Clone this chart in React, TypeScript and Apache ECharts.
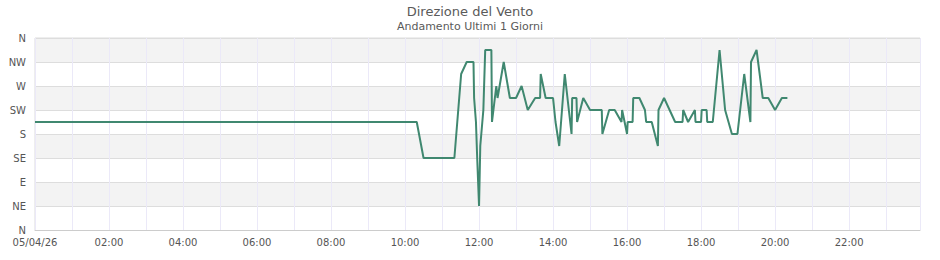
import React, { useEffect, useRef } from "react";
import * as echarts from "echarts";

const titleText = "Direzione del Vento";
const subtitleText = "Andamento Ultimi 1 Giorni";
const dateLabel = "05/04/26";

const dirLabels = ["N", "NE", "E", "SE", "S", "SW", "W", "NW", "N"];

const times = [
  "00:00", "10:19", "10:30", "11:20", "11:31", "11:40", "11:51", "11:52", "11:55", "11:57",
  "12:00", "12:02", "12:07", "12:10", "12:20", "12:21", "12:28", "12:30", "12:40", "12:50",
  "13:00", "13:09", "13:19", "13:31", "13:39", "13:40", "13:48", "14:00", "14:04", "14:10",
  "14:19", "14:30", "14:31", "14:38", "14:39", "14:49", "15:00", "15:19", "15:20", "15:31",
  "15:40", "15:51", "15:52", "16:00", "16:01", "16:09", "16:10", "16:20", "16:29", "16:31",
  "16:40", "16:50", "16:51", "17:00", "17:18", "17:30", "17:31", "17:39", "17:50", "17:51",
  "18:00", "18:01", "18:09", "18:10", "18:19", "18:30", "18:39", "18:50", "18:59", "19:10",
  "19:20", "19:21", "19:30", "19:40", "19:49", "20:00", "20:11", "20:20",
];

const directions = [
  202.5, 202.5, 135, 135, 292.5, 315, 315, 247.5, 202.5, 135,
  45, 157.5, 225, 337.5, 337.5, 202.5, 270, 247.5, 315, 247.5,
  247.5, 270, 225, 247.5, 247.5, 292.5, 247.5, 247.5, 202.5, 157.5,
  292.5, 180, 247.5, 247.5, 202.5, 247.5, 225, 225, 180, 225,
  225, 202.5, 225, 180, 202.5, 202.5, 247.5, 247.5, 225, 202.5,
  202.5, 157.5, 225, 247.5, 202.5, 202.5, 225, 202.5, 225, 202.5,
  202.5, 225, 225, 202.5, 202.5, 337.5, 225, 180, 180, 292.5,
  202.5, 315, 337.5, 247.5, 247.5, 225, 247.5, 247.5,
];

const toMinutes = (t: string) => {
  const [h, m] = t.split(":").map(Number);
  return h * 60 + m;
};

const pad = (n: number) => (n < 10 ? "0" + n : "" + n);

export default function App() {
  const ref = useRef<HTMLDivElement>(null);

  useEffect(() => {
    if (!ref.current) return;
    const chart = echarts.init(ref.current, null, { renderer: "svg" });
    const font = "DejaVu Sans";
    chart.setOption({
      animation: false,
      backgroundColor: "#ffffff",
      title: {
        text: titleText,
        subtext: subtitleText,
        left: "center",
        top: 0,
        itemGap: 3,
        textStyle: { fontFamily: font, fontSize: 13, fontWeight: "normal", color: "#5a5a5a" },
        subtextStyle: { fontFamily: font, fontSize: 11, color: "#5a5a5a" },
      },
      grid: {
        left: 35,
        right: 20,
        top: 38,
        bottom: 30,
        show: true,
        borderColor: "#dddddd",
        borderWidth: 1,
        backgroundColor: "transparent",
      },
      xAxis: {
        type: "value",
        min: 0,
        max: 1435,
        interval: 60,
        axisLine: { show: true, lineStyle: { color: "#cccccc" } },
        axisTick: { show: false },
        axisLabel: {
          fontFamily: font,
          fontSize: 10,
          color: "#555555",
          margin: 7,
          formatter: (v: number) => {
            if (v % 120 !== 0 || v >= 1435) return "";
            if (v === 0) return dateLabel;
            return pad(v / 60) + ":00";
          },
        },
        splitLine: { show: true, lineStyle: { color: "#ebe9f8", width: 1 } },
      },
      yAxis: {
        type: "value",
        min: 0,
        max: 360,
        interval: 45,
        axisLine: { show: false },
        axisTick: { show: false },
        axisLabel: {
          fontFamily: font,
          fontSize: 10,
          color: "#555555",
          margin: 9,
          formatter: (v: number) => dirLabels[Math.round(v / 45)] ?? "",
        },
        splitLine: { show: true, lineStyle: { color: "#dddddd", width: 1 } },
        splitArea: { show: true, areaStyle: { color: ["#ffffff", "#f3f3f3"] } },
      },
      series: [
        {
          type: "line",
          showSymbol: false,
          symbol: "none",
          lineStyle: { color: "#408870", width: 2 },
          itemStyle: { color: "#408870" },
          data: times.map((t, i) => [toMinutes(t), directions[i]]),
        },
      ],
    });
    return () => chart.dispose();
  }, []);

  return (
    <div
      ref={ref}
      style={{ position: "fixed", left: 0, top: 0, width: 940, height: 260 }}
    />
  );
}
